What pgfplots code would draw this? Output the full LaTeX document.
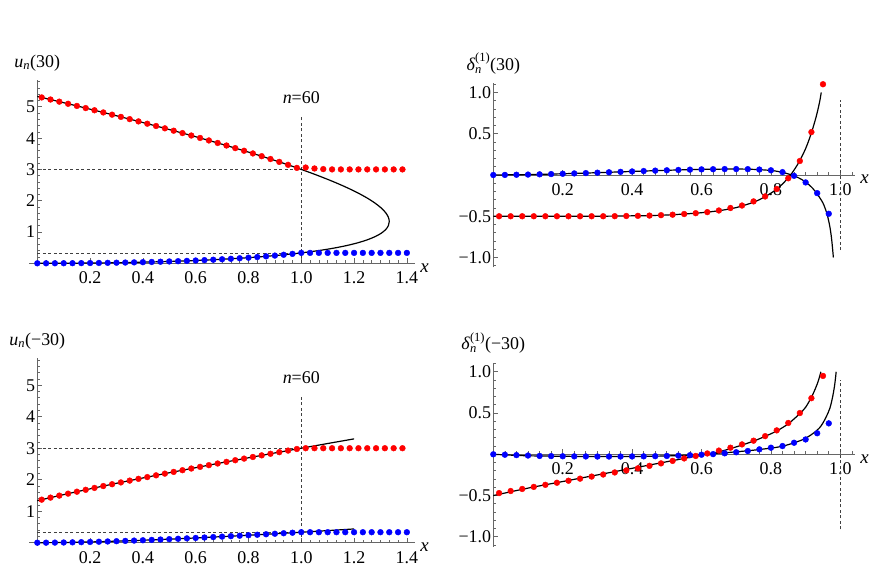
\documentclass[border=0pt]{standalone}
\usepackage{pgfplots}
\pgfplotsset{compat=1.18}
\usepackage{amsmath}
\usepackage{fontspec}
\setmainfont{Liberation Serif}

\pgfplotsset{
  mma/.style={
    scale only axis,
    axis lines=middle,
    axis line style={black!60, line width=0.8bp, -},
    every tick/.style={black!60, line width=0.7bp},
    tick align=inside,
    major tick length=5bp,
    minor tick length=3bp,
    clip=false,
    tick label style={font=\fontsize{18}{18}\selectfont, text=black},
    xticklabel style={anchor=north, yshift=-5bp},
    yticklabel style={anchor=east, inner sep=2bp},
    every axis x label/.style={at={(current axis.right of origin)}, anchor=base west, yshift=-9bp, xshift=2bp, font=\fontsize{19}{19}\selectfont\itshape},
    every axis y label/.style={at={(current axis.above origin)}, anchor=base, yshift=13bp, font=\fontsize{18}{18}\selectfont},
    xlabel={x},
  },
  left/.style={mma, xmin=-0.03, xmax=1.43, ymin=-0.1, ymax=5.85, width=385.4bp,
    xtick={0.2,0.4,0.6,0.8,1.0,1.2,1.4}, xticklabels={0.2,0.4,0.6,0.8,1.0,1.2,1.4},
    ytick={1,2,3,4,5}, yticklabels={1,2,3,4,5},
    minor xtick={0.033333,0.066667,...,1.42}, minor ytick={0.2,0.4,...,5.81}},
  right/.style={mma, xmin=0, xmax=1.042, ymin=-1.12, ymax=1.11, width=361.6bp, height=184bp,
    xtick={0.2,0.4,0.6,0.8,1.0}, xticklabels={0.2,0.4,0.6,0.8,1.0},
    ytick={-1,-0.5,0.5,1}, yticklabels={−1.0,−0.5,0.5,1.0},
    minor xtick={0.033333,0.066667,...,1.03}, minor ytick={-1.1,-1.0,...,1.1}},
  dotR/.style={color=red, only marks, mark=*, mark size=2.9bp, mark options={fill=red, draw=red, line width=0.4bp}},
  dotB/.style={color=blue, only marks, mark=*, mark size=2.9bp, mark options={fill=blue, draw=blue, line width=0.4bp}},
  curve/.style={black, line width=1.2bp, no marks, smooth},
  dash/.style={black!75, line width=0.7bp, dash pattern=on 3bp off 2.5bp, no marks},
}

\begin{document}
\begin{tikzpicture}

% ---------------- top left ----------------
\begin{axis}[left, at={(37.3bp,306.7bp)}, anchor=origin, height=186.2bp,
  ylabel={\textit{u}$_{\textit{n}}$(30)}]
\addplot[dash] coordinates {(1,0) (1,4.67)};
\addplot[dash] coordinates {(0,3) (1,3)};
\addplot[dash] coordinates {(0,0.333) (1,0.333)};
\addplot[dotR] coordinates {
(0.016667,5.2999) (0.05,5.2329) (0.083333,5.1653) (0.116667,5.0973) (0.15,5.0288)
(0.183333,4.9599) (0.216667,4.8904) (0.25,4.8204) (0.283333,4.7498) (0.316667,4.6786)
(0.35,4.6068) (0.383333,4.5342) (0.416667,4.4611) (0.45,4.3872) (0.483333,4.3125)
(0.516667,4.2370) (0.55,4.1606) (0.583333,4.0833) (0.616667,4.0051) (0.65,3.9257)
(0.683333,3.8452) (0.716667,3.7635) (0.75,3.6805) (0.783333,3.5960) (0.816667,3.5100)
(0.85,3.4222) (0.883333,3.3325) (0.916667,3.2407) (0.95,3.1465) (0.983333,3.0496)
(1.016667,3.06) (1.05,3.03) (1.083333,3.01) (1.116667,3.0) (1.15,3.0)
(1.183333,3.0) (1.216667,3.0) (1.25,3.0) (1.283333,3.0) (1.316667,3.0)
(1.35,3.0) (1.383333,3.0)};
\addplot[dotB] coordinates {
(0,0) (0.033333,0.0002) (0.066667,0.0009) (0.1,0.0020) (0.133333,0.0035)
(0.166667,0.0056) (0.2,0.0081) (0.233333,0.0112) (0.266667,0.0149) (0.3,0.0191)
(0.333333,0.0239) (0.366667,0.0294) (0.4,0.0356) (0.433333,0.0424) (0.466667,0.0501)
(0.5,0.0585) (0.533333,0.0677) (0.566667,0.0779) (0.6,0.0890) (0.633333,0.1012)
(0.666667,0.1144) (0.7,0.1288) (0.733333,0.1445) (0.766667,0.1616) (0.8,0.1801)
(0.833333,0.2003) (0.866667,0.2224) (0.9,0.2464) (0.933333,0.2727) (0.966667,0.3016)
(1.0,0.3333) (1.033333,0.333) (1.066667,0.333) (1.1,0.333) (1.133333,0.333)
(1.166667,0.333) (1.2,0.333) (1.233333,0.333) (1.266667,0.333) (1.3,0.333)
(1.333333,0.333) (1.366667,0.333) (1.4,0.333)};
\addplot[curve] coordinates {
(0,0) (0.13,0.00333) (0.25333,0.01333) (0.37,0.03) (0.48,0.05333) (0.58333,0.08333)
(0.68,0.12) (0.77,0.16333) (0.85333,0.21333) (0.93,0.27) (1.0,0.33333)
(1.06333,0.40333) (1.12,0.48) (1.17,0.56333) (1.21333,0.65333) (1.25,0.75)
(1.28,0.85333) (1.30333,0.96333) (1.32,1.08) (1.33,1.20333) (1.33333,1.33333)
(1.33,1.47) (1.32,1.61333) (1.30333,1.76333) (1.28,1.92) (1.25,2.08333)
(1.21333,2.25333) (1.17,2.43) (1.12,2.61333) (1.06333,2.80333) (1.0,3.0)
(0.93,3.20333) (0.85333,3.41333) (0.77,3.63) (0.68,3.85333) (0.58333,4.08333)
(0.48,4.32) (0.37,4.56333) (0.25333,4.81333) (0.13,5.07) (0,5.33333)};
\node[anchor=base, font=\fontsize{18}{18}\selectfont] at (axis cs:1,5.12) {\textit{n}=60};
\end{axis}

% ---------------- top right ----------------
\begin{axis}[right, at={(493.3bp,395bp)}, anchor=origin,
  ylabel={\textit{δ}$_{\textit{n}}^{\text{(1)}}$(30)}]
\addplot[dash] coordinates {(1,-0.91) (1,0.91)};
\addplot[dotR] coordinates {
(0.016667,-0.5) (0.05,-0.5) (0.083333,-0.5) (0.116667,-0.5) (0.15,-0.5)
(0.183333,-0.5) (0.216667,-0.5) (0.25,-0.5) (0.283333,-0.5) (0.316667,-0.5)
(0.35,-0.499) (0.383333,-0.497) (0.416667,-0.495) (0.45,-0.492) (0.483333,-0.487)
(0.516667,-0.481) (0.55,-0.473) (0.583333,-0.463) (0.616667,-0.45) (0.65,-0.43)
(0.683333,-0.40) (0.716667,-0.37) (0.75,-0.32) (0.783333,-0.26) (0.816667,-0.17)
(0.85,-0.04) (0.883333,0.17) (0.916667,0.52) (0.95,1.10)};
\addplot[dotB] coordinates {
(0,0) (0.033333,0.001) (0.066667,0.003) (0.1,0.005) (0.133333,0.008)
(0.166667,0.011) (0.2,0.015) (0.233333,0.019) (0.266667,0.023) (0.3,0.028)
(0.333333,0.033) (0.366667,0.038) (0.4,0.043) (0.433333,0.048) (0.466667,0.053)
(0.5,0.057) (0.533333,0.061) (0.566667,0.065) (0.6,0.068) (0.633333,0.070)
(0.666667,0.072) (0.7,0.072) (0.733333,0.071) (0.766667,0.066) (0.8,0.057)
(0.833333,0.035) (0.866667,-0.01) (0.9,-0.09) (0.933333,-0.22) (0.966667,-0.47)};
\addplot[curve] coordinates {
(0,-0.5) (0.1,-0.5) (0.2,-0.5) (0.3,-0.5) (0.4,-0.495) (0.45,-0.492) (0.5,-0.485)
(0.55,-0.473) (0.6,-0.457) (0.65,-0.433) (0.7,-0.395) (0.75,-0.33) (0.78,-0.27)
(0.8,-0.22) (0.82,-0.16) (0.84,-0.08) (0.86,0.02) (0.88,0.15) (0.9,0.32)
(0.915,0.49) (0.93,0.70) (0.94,0.88) (0.945,1.0)};
\addplot[curve] coordinates {
(0,0) (0.1,0.005) (0.2,0.015) (0.3,0.028) (0.4,0.043) (0.5,0.057) (0.6,0.068)
(0.7,0.072) (0.75,0.068) (0.8,0.055) (0.83,0.035) (0.86,0.0) (0.88,-0.035)
(0.9,-0.085) (0.92,-0.16) (0.935,-0.24) (0.95,-0.34) (0.96,-0.45) (0.965,-0.53)
(0.97,-0.63) (0.975,-0.78) (0.98,-1.0)};
\end{axis}

% ---------------- bottom left ----------------
\begin{axis}[left, at={(37.3bp,27.3bp)}, anchor=origin, height=187.4bp,
  ylabel={\textit{u}$_{\textit{n}}$(−30)}]
\addplot[dash] coordinates {(1,0) (1,4.65)};
\addplot[dash] coordinates {(0,3) (1,3)};
\addplot[dash] coordinates {(0,0.333) (1,0.333)};
\addplot[dotR] coordinates {
(0.016667,1.3665) (0.05,1.4316) (0.083333,1.4954) (0.116667,1.5579) (0.15,1.6194)
(0.183333,1.6800) (0.216667,1.7397) (0.25,1.7986) (0.283333,1.8568) (0.316667,1.9143)
(0.35,1.9712) (0.383333,2.0275) (0.416667,2.0833) (0.45,2.1387) (0.483333,2.1935)
(0.516667,2.2479) (0.55,2.3019) (0.583333,2.3555) (0.616667,2.4088) (0.65,2.4617)
(0.683333,2.5143) (0.716667,2.5665) (0.75,2.6185) (0.783333,2.6702) (0.816667,2.7216)
(0.85,2.7728) (0.883333,2.8237) (0.916667,2.8743) (0.95,2.9248) (0.983333,2.9750)
(1.016667,3.0) (1.05,3.0) (1.083333,3.0) (1.116667,3.0) (1.15,3.0)
(1.183333,3.0) (1.216667,3.0) (1.25,3.0) (1.283333,3.0) (1.316667,3.0)
(1.35,3.0) (1.383333,3.0)};
\addplot[dotB] coordinates {
(0,0) (0.033333,0.0008) (0.066667,0.0030) (0.1,0.0066) (0.133333,0.0112)
(0.166667,0.0168) (0.2,0.0234) (0.233333,0.0308) (0.266667,0.0389) (0.3,0.0477)
(0.333333,0.0572) (0.366667,0.0672) (0.4,0.0778) (0.433333,0.0890) (0.466667,0.1005)
(0.5,0.1126) (0.533333,0.1250) (0.566667,0.1379) (0.6,0.1511) (0.633333,0.1647)
(0.666667,0.1786) (0.7,0.1929) (0.733333,0.2074) (0.766667,0.2223) (0.8,0.2374)
(0.833333,0.2528) (0.866667,0.2684) (0.9,0.2843) (0.933333,0.3004) (0.966667,0.3168)
(1.0,0.3333) (1.033333,0.333) (1.066667,0.333) (1.1,0.333) (1.133333,0.333)
(1.166667,0.333) (1.2,0.333) (1.233333,0.333) (1.266667,0.333) (1.3,0.333)
(1.333333,0.333) (1.366667,0.333) (1.4,0.333)};
\addplot[curve] coordinates {
(0,1.33333) (0.1,1.52679) (0.2,1.70994) (0.3,1.88560) (0.4,2.05549) (0.5,2.22076)
(0.6,2.38221) (0.7,2.54045) (0.8,2.69594) (0.9,2.84903) (1.0,3.0) (1.1,3.14909) (1.2,3.29650)};
\addplot[curve] coordinates {
(0,0) (0.1,0.00655) (0.2,0.02339) (0.3,0.04773) (0.4,0.07784) (0.5,0.11257)
(0.6,0.15112) (0.7,0.19288) (0.8,0.23739) (0.9,0.28431) (1.0,0.33333) (1.1,0.38423) (1.2,0.43682)};
\node[anchor=base, font=\fontsize{18}{18}\selectfont] at (axis cs:1,5.06) {\textit{n}=60};
\end{axis}

% ---------------- bottom right ----------------
\begin{axis}[right, at={(493.3bp,115.7bp)}, anchor=origin,
  ylabel={\textit{δ}$_{\textit{n}}^{\text{(1)}}$(−30)}]
\addplot[dash] coordinates {(1,-0.91) (1,0.90)};
\addplot[dotR] coordinates {
(0.016667,-0.47) (0.05,-0.445) (0.083333,-0.42) (0.116667,-0.395) (0.15,-0.37)
(0.183333,-0.345) (0.216667,-0.32) (0.25,-0.295) (0.283333,-0.27) (0.316667,-0.245)
(0.35,-0.22) (0.383333,-0.195) (0.416667,-0.17) (0.45,-0.14) (0.483333,-0.11)
(0.516667,-0.08) (0.55,-0.05) (0.583333,-0.02) (0.616667,0.01) (0.65,0.045)
(0.683333,0.08) (0.716667,0.12) (0.75,0.165) (0.783333,0.22) (0.816667,0.29)
(0.85,0.38) (0.883333,0.50) (0.916667,0.68) (0.95,0.95)};
\addplot[dotB] coordinates {
(0,0) (0.033333,-0.005) (0.066667,-0.01) (0.1,-0.015) (0.133333,-0.02)
(0.166667,-0.022) (0.2,-0.024) (0.233333,-0.025) (0.266667,-0.026) (0.3,-0.027)
(0.333333,-0.027) (0.366667,-0.027) (0.4,-0.026) (0.433333,-0.025) (0.466667,-0.023)
(0.5,-0.02) (0.533333,-0.016) (0.566667,-0.011) (0.6,-0.005) (0.633333,0.002)
(0.666667,0.012) (0.7,0.025) (0.733333,0.04) (0.766667,0.06) (0.8,0.08)
(0.833333,0.10) (0.866667,0.14) (0.9,0.18) (0.933333,0.255) (0.966667,0.375)};
\addplot[curve] coordinates {
(0,-0.5) (0.1,-0.41) (0.2,-0.33) (0.3,-0.25) (0.4,-0.17) (0.5,-0.09) (0.6,-0.01)
(0.65,0.03) (0.7,0.09) (0.75,0.16) (0.79,0.23) (0.82,0.29) (0.85,0.37) (0.88,0.48)
(0.9,0.57) (0.92,0.72) (0.935,0.87) (0.944,1.0)};
\addplot[curve] coordinates {
(0,0) (0.05,-0.01) (0.1,-0.018) (0.2,-0.024) (0.3,-0.027) (0.4,-0.027) (0.5,-0.02)
(0.55,-0.012) (0.6,0.0) (0.65,0.013) (0.7,0.03) (0.75,0.05) (0.8,0.075) (0.83,0.095)
(0.86,0.13) (0.89,0.175) (0.91,0.22) (0.93,0.28) (0.94,0.32) (0.95,0.38) (0.96,0.46)
(0.97,0.56) (0.978,0.7) (0.984,0.85) (0.988,1.0)};
\end{axis}

\pgfresetboundingbox
\useasboundingbox (0bp,0bp) rectangle (879bp,570bp);
\end{tikzpicture}
\end{document}
